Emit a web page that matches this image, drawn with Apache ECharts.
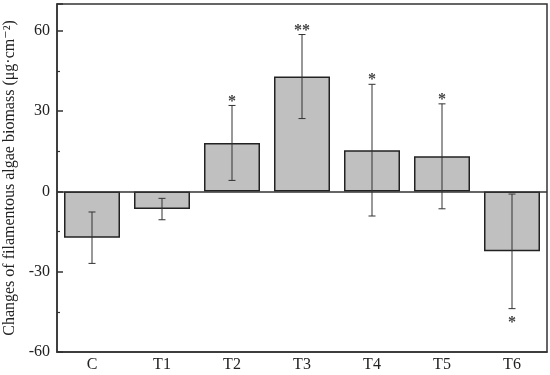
<!DOCTYPE html>
<html><head><meta charset="utf-8">
<script src="https://cdn.jsdelivr.net/npm/echarts@6/dist/echarts.min.js"></script>
<style>html,body{margin:0;padding:0;background:#fff}#c{width:550px;height:375px}</style>
</head><body><div id="c"></div>
<script>
var categories = ['C','T1','T2','T3','T4','T5','T6'];
var means = [-17.3, -6.6, 18.1, 42.9, 15.4, 13.1, -22.4];
var errors = [9.6, 4.0, 14.0, 15.7, 24.6, 19.6, 21.4];
var stars = ['', '', '*', '**', '*', '*', '*'];
var starSide = ['', '', 'up', 'up', 'up', 'up', 'down'];
var yTicks = [-60, -30, 0, 30, 60];

var FONT = '"Liberation Serif", "DejaVu Serif", serif';
var chart = echarts.init(document.getElementById('c'), null, {renderer:'canvas'});
var errData = categories.map(function(c,i){ return [i, means[i]-errors[i], means[i]+errors[i]]; });

chart.setOption({
  animation:false,
  grid:{left:57, right:3, top:4, bottom:23, outerBoundsMode:'none', containLabel:false,
    show:true, borderColor:'#333', borderWidth:1.5, backgroundColor:'transparent'},
  xAxis:{type:'category', data:categories,
    axisLine:{onZero:false, lineStyle:{color:'#333', width:1.5}},
    axisTick:{show:false},
    axisLabel:{color:'#222', fontFamily:FONT, fontSize:16, margin:5}
  },
  yAxis:{type:'value', min:-60, max:70, interval:30,
    name:'Changes of filamentous algae biomass (\u03bcg\u00b7cm\u207b\u00b2)',
    nameLocation:'middle', nameGap:33,
    nameTextStyle:{color:'#222', fontFamily:FONT, fontSize:16},
    axisLine:{show:true, lineStyle:{color:'#333', width:1.5}},
    axisTick:{show:true, inside:true, length:6, lineStyle:{color:'#333', width:1.5}},
    minorTick:{show:true, splitNumber:2, length:3, lineStyle:{color:'#333', width:1.2}},
    splitLine:{show:false},
    axisLabel:{color:'#222', fontFamily:FONT, fontSize:16, margin:7,
      formatter:function(v){ return yTicks.indexOf(v) >= 0 ? String(v) : ''; }}
  },
  series:[
    {type:'bar', data:means, barWidth:'80%',
     itemStyle:{color:'#c0c0c0', borderColor:'#222', borderWidth:1.5},
     markLine:{silent:true, symbol:'none', label:{show:false},
       lineStyle:{color:'#333', width:1.5, type:'solid'}, data:[{yAxis:0}]}
    },
    {type:'custom', data:errData, z:5,
     renderItem:function(params, api){
       var i = params.dataIndex;
       var x = api.value(0);
       var lo = api.coord([x, api.value(1)]);
       var hi = api.coord([x, api.value(2)]);
       var cx = lo[0], hw = 3.5;
       var st = {stroke:'#333', lineWidth:1};
       var children = [
         {type:'line', shape:{x1:cx,y1:lo[1],x2:cx,y2:hi[1]}, style:st},
         {type:'line', shape:{x1:cx-hw,y1:lo[1],x2:cx+hw,y2:lo[1]}, style:st},
         {type:'line', shape:{x1:cx-hw,y1:hi[1],x2:cx+hw,y2:hi[1]}, style:st}
       ];
       if (stars[i]) {
         var up = starSide[i] === 'up';
         children.push({type:'text', style:{text:stars[i], x:cx, y: up ? hi[1]-4 : lo[1]+14,
           textAlign:'center', textVerticalAlign:'middle', fill:'#444', font:'bold 16px '+FONT}});
       }
       return {type:'group', children:children};
     }
    }
  ]
});
</script></body></html>
